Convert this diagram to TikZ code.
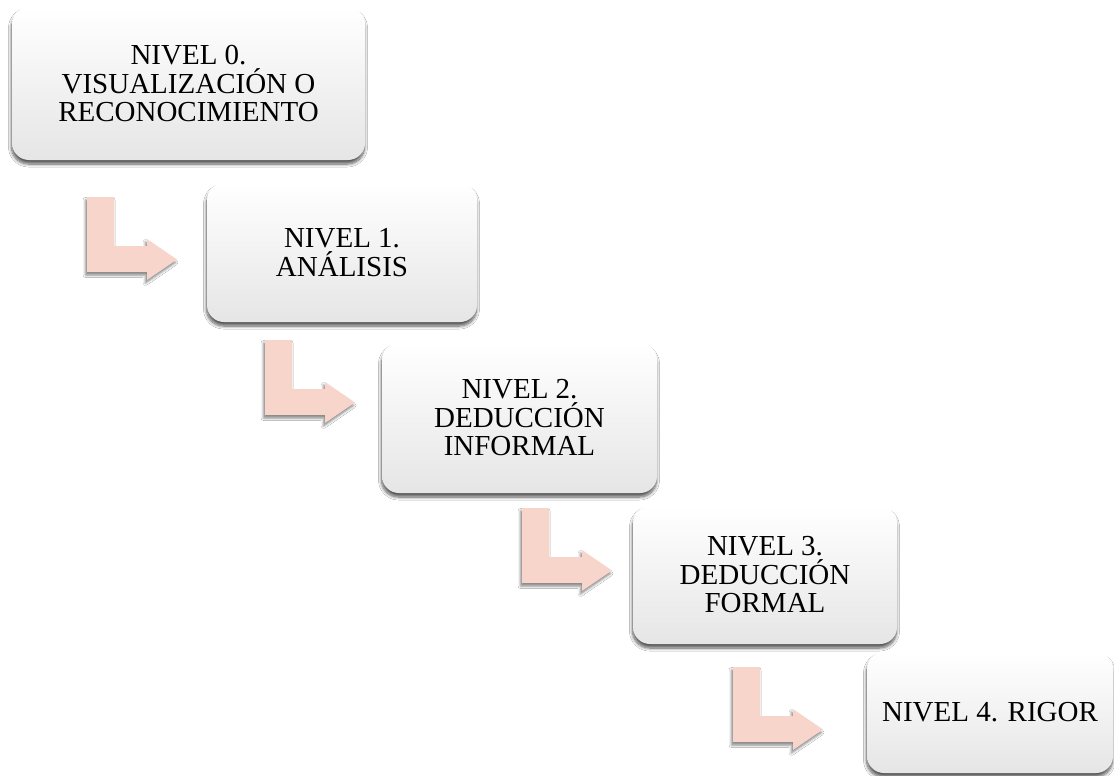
\documentclass[tikz,border=0pt]{standalone}
\usepackage{fontspec}
\setmainfont{Liberation Serif}
\usetikzlibrary{shadows.blur}
\definecolor{arrowfill}{HTML}{F7D5CA}
\tikzset{
  stepnode/.style={rounded corners=17pt, draw=none,
    top color=white, middle color=white, bottom color=black!10,
    align=center, inner sep=0pt,
    font=\fontsize{29}{28.5}\selectfont,
    blur shadow={shadow xshift=-0.5pt, shadow yshift=-4pt, shadow blur radius=3pt, shadow blur steps=8, shadow opacity=65}},
  larrowstyle/.style={fill=arrowfill,
    blur shadow={shadow xshift=-1.5pt, shadow yshift=-3pt, shadow blur radius=2.5pt, shadow opacity=50}}
}
\newcommand{\Larrow}[2]{%
  \path[larrowstyle, shift={(#1,#2)}] (0,0) -- (27,0) -- (27,49) -- (60,49) -- (60,42)
     -- (90,62.5) -- (60,83) -- (60,75) -- (0,75) -- cycle;}
\begin{document}
\begin{tikzpicture}[x=1pt,y=-1pt]
\useasboundingbox (0,0) rectangle (1114,776);
\fill[white] (0,0) rectangle (1114,776);

\Larrow{87}{197}
\Larrow{265}{340}
\Larrow{522}{508}
\Larrow{733}{667}

\node[stepnode, minimum width=353pt, minimum height=153pt] (n0) at (188.5,83.5)
  {NIVEL 0.\\VISUALIZACIÓN O\\RECONOCIMIENTO};
\node[stepnode, minimum width=270pt, minimum height=139pt] (n1) at (342,252.5)
  {NIVEL 1.\\ANÁLISIS};
\node[stepnode, minimum width=275pt, minimum height=150pt] (n2) at (519.5,418)
  {NIVEL 2.\\DEDUCCIÓN\\INFORMAL};
\node[stepnode, minimum width=264pt, minimum height=138pt] (n3) at (765,575)
  {NIVEL 3.\\DEDUCCIÓN\\FORMAL};
\node[stepnode, minimum width=246pt, minimum height=121pt] (n4) at (990,712.5)
  {NIVEL 4. RIGOR};
\end{tikzpicture}
\end{document}
